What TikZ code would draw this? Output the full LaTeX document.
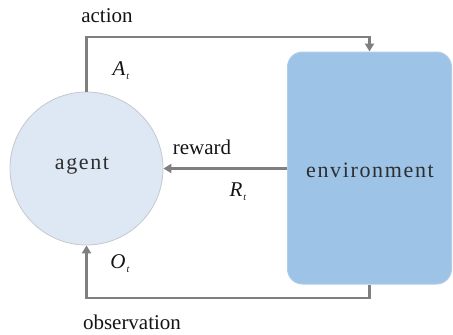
\documentclass[tikz,border=0pt]{standalone}
\usepackage{fontspec}
\setmainfont{Liberation Serif}
\newfontfamily\spacedfont[LetterSpace=7.5]{Liberation Serif}
\usetikzlibrary{arrows.meta}
\definecolor{linegray}{HTML}{7F7F7F}
\definecolor{agentfill}{HTML}{DDE8F4}
\definecolor{agentdraw}{HTML}{C4C8CC}
\definecolor{envfill}{HTML}{9DC3E6}
\definecolor{envdraw}{HTML}{B0CDEA}
\definecolor{boxtext}{HTML}{2E2E2E}
\tikzset{
  conn/.style={draw=linegray, line width=2.5pt, -{Triangle[length=8pt,width=9pt]}},
  lbl/.style={font=\fontsize{21}{24}\selectfont, text=black!92, inner sep=0pt},
}
\newcommand{\subt}[1]{\textit{#1}\hspace{1pt}\raisebox{-0.4ex}{\fontsize{10}{12}\selectfont\textit{t}}}
\begin{document}
\begin{tikzpicture}[x=1pt,y=1pt]
\useasboundingbox (0,0) rectangle (453,-335);
\node[circle, minimum size=153pt, inner sep=0pt, fill=agentfill, draw=agentdraw, line width=0.8pt] (agent) at (86.5,-168.5) {};
\node[text=boxtext, font=\spacedfont\fontsize{22}{24}\selectfont, inner sep=0pt] (agentlbl) at (82,-166) {agent};
\node[rectangle, rounded corners=15pt, minimum width=164pt, minimum height=232pt, inner sep=0pt, fill=envfill, draw=envdraw, line width=1pt] (env) at (369.5,-168) {};
\node[text=boxtext, font=\spacedfont\fontsize{22}{24}\selectfont, inner sep=0pt] (envlbl) at (370,-170) {environment};
\coordinate (topl) at (86.5,-37);
\coordinate (topr) at (env.north |- topl);
\draw[conn] (agent.north) -- (topl) -- (topr) -- (env.north);
\draw[conn] (env.west |- agent.center) -- (agent.east);
\coordinate (botr) at (369.5,-298);
\coordinate (botl) at (agent.south |- botr);
\draw[conn] (env.south) -- (botr) -- (botl) -- (agent.south);
\node[lbl] (action) at (107,-16) {action};
\node[lbl] (at) at (121,-71) {\subt{A}};
\node[lbl] (reward) at (202,-147) {reward};
\node[lbl] (rt) at (238,-192) {\subt{R}};
\node[lbl] (ot) at (120,-264) {\subt{O}};
\node[lbl] (obs) at (132,-322) {observation};
\end{tikzpicture}
\end{document}
